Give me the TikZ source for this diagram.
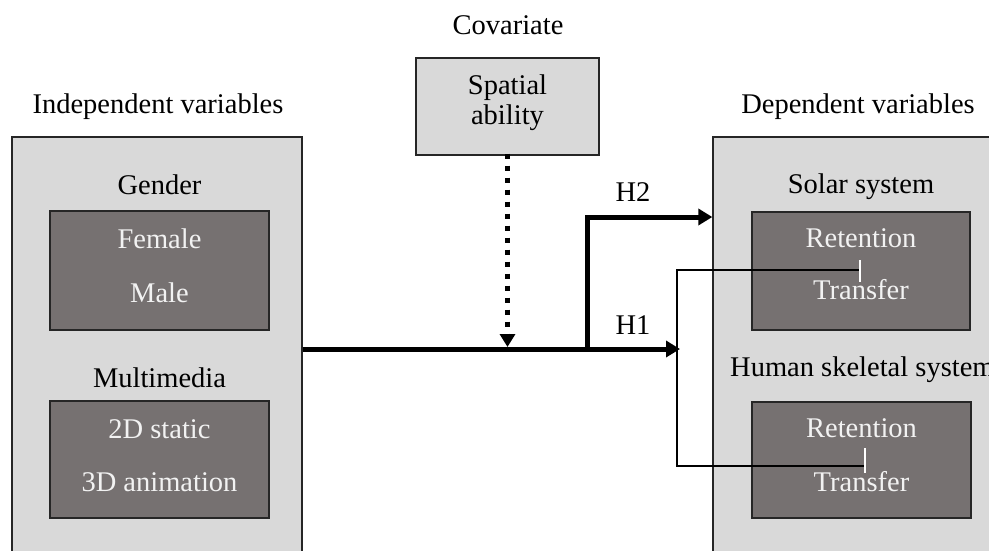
\documentclass[tikz,border=0pt]{standalone}
\usepackage{fontspec}
\setmainfont{Liberation Serif}
\usetikzlibrary{arrows.meta}
\definecolor{lightbox}{HTML}{D9D9D9}
\definecolor{darkbox}{HTML}{767171}
\definecolor{lighttext}{HTML}{F2F2F2}
\tikzset{
  outerbox/.style={draw=black!85, fill=lightbox, line width=1.3pt, inner sep=0pt},
  innerbox/.style={draw=black!85, fill=darkbox, line width=1.3pt, inner sep=0pt},
  lbl/.style={text=black, inner sep=0pt, font=\fontsize{28.5}{31}\selectfont},
  wlbl/.style={text=lighttext, inner sep=0pt, font=\fontsize{28.5}{31}\selectfont},
  thickarrow/.style={line width=5pt, miter limit=10, -{Triangle[length=14pt,width=16pt]}},
  dotarrow/.style={line width=5pt, dash pattern=on 5pt off 7pt, -{Triangle[length=13pt,width=15pt]}},
  thinline/.style={line width=2.3pt, black},
  tick/.style={line width=2.4pt, white}
}
\begin{document}
\begin{tikzpicture}[x=1pt,y=-1pt]
\useasboundingbox (0,0) rectangle (989,550);
\clip (0,0) rectangle (989,550);
\fill[white] (0,0) rectangle (989,550);

% outer boxes
\node[outerbox, minimum width=290pt, minimum height=433pt] (indep) at (157,353.5) {};
\node[outerbox, minimum width=300pt, minimum height=433pt] (dep) at (863,353.5) {};
\node[outerbox, minimum width=183pt, minimum height=97pt] (cov) at (507.5,106.5) {};

% headings
\node[lbl] (indepT) at (158,107) {Independent variables};
\node[lbl] (depT) at (858,107) {Dependent variables};
\node[lbl] (covT) at (508,25) {Covariate};
\node[lbl] (spat) at (507.5,88) {Spatial};
\node[lbl] (abil) at (507.5,118) {ability};

% left inner
\node[lbl] (gender) at (159.5,185) {Gender};
\node[innerbox, minimum width=219pt, minimum height=119pt] (gbox) at (159.5,270.5) {};
\node[wlbl] (female) at (159.5,239) {Female};
\node[wlbl] (male) at (159.5,293) {Male};
\node[lbl] (multi) at (159.5,378) {Multimedia};
\node[innerbox, minimum width=219pt, minimum height=117pt] (mbox) at (159.5,459.5) {};
\node[wlbl] (twod) at (159.5,429) {2D static};
\node[wlbl] (threed) at (159.5,482) {3D animation};

% right inner
\node[lbl] (solar) at (861,187) {Solar system};
\node[innerbox, minimum width=218pt, minimum height=118pt] (sbox) at (861,271) {};
\node[wlbl] (sret) at (861,238) {Retention};
\node[wlbl] (stra) at (861,290) {Transfer};
\node[lbl, anchor=west] (human) at (730,370) {Human skeletal system};
\node[innerbox, minimum width=219pt, minimum height=116pt] (hbox) at (861.5,460) {};
\node[wlbl] (hret) at (861.5,428) {Retention};
\node[wlbl] (htra) at (861.5,482) {Transfer};

% hypothesis labels
\node[lbl] (H2) at (633,192) {H2};
\node[lbl] (H1) at (633,325) {H1};

% connectors
\coordinate (src) at (indep.east |- 0,349);
\coordinate (branch) at (587,349);
\coordinate (h1end) at (680,349);
\coordinate (h2end) at (dep.west |- 0,217);
\coordinate (covend) at (cov.south |- 0,347);
\coordinate (sp) at (860,270);
\coordinate (hp) at (865,466);
\coordinate (vx) at (677,0);

\draw[thickarrow] (src) -- (h1end);
\draw[thickarrow] (branch) |- (h2end);
\draw[dotarrow] ([yshift=2pt]cov.south) -- (covend);
\draw[thinline] (sp) -- (vx |- sp) -- (vx |- hp) -- (hp);
\draw[tick] (860,260) -- (860,282);
\draw[tick] (865,448) -- (865,473);
\end{tikzpicture}
\end{document}
